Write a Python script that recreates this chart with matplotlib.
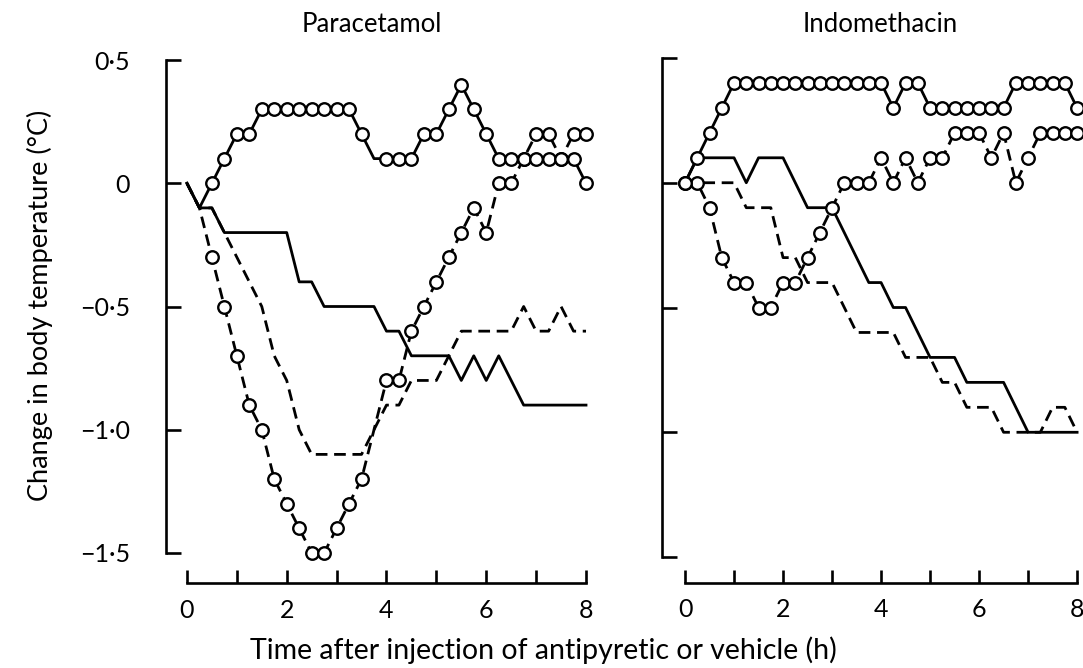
import matplotlib
matplotlib.use("Agg")
import matplotlib.pyplot as plt

plt.rcParams['font.family'] = ['Lato', 'DejaVu Sans']

# ---- data -------------------------------------------------------------
hours = [i * 0.25 for i in range(33)]

# Paracetamol
para_circ_solid = [0, -0.1, 0, 0.1, 0.2, 0.2, 0.3, 0.3, 0.3, 0.3, 0.3, 0.3, 0.3, 0.3,
                   0.2, 0.1, 0.1, 0.1, 0.1, 0.2, 0.2, 0.3, 0.4, 0.3, 0.2, 0.1, 0.1,
                   0.1, 0.1, 0.1, 0.1, 0.1, 0.0]
para_circ_dash = [0, -0.1, -0.3, -0.5, -0.7, -0.9, -1.0, -1.2, -1.3, -1.4, -1.5, -1.5,
                  -1.4, -1.3, -1.2, -1.0, -0.8, -0.8, -0.6, -0.5, -0.4, -0.3, -0.2,
                  -0.1, -0.2, 0.0, 0.0, 0.1, 0.2, 0.2, 0.1, 0.2, 0.2]
para_solid = [0, -0.1, -0.1, -0.2, -0.2, -0.2, -0.2, -0.2, -0.2, -0.4, -0.4, -0.5,
              -0.5, -0.5, -0.5, -0.5, -0.6, -0.6, -0.7, -0.7, -0.7, -0.7, -0.8, -0.7,
              -0.8, -0.7, -0.8, -0.9, -0.9, -0.9, -0.9, -0.9, -0.9]
para_dash = [0, -0.1, -0.1, -0.2, -0.3, -0.4, -0.5, -0.7, -0.8, -1.0, -1.1, -1.1, -1.1,
             -1.1, -1.1, -1.0, -0.9, -0.9, -0.8, -0.8, -0.8, -0.7, -0.6, -0.6, -0.6,
             -0.6, -0.6, -0.5, -0.6, -0.6, -0.5, -0.6, -0.6]

# Indomethacin
indo_circ_solid = [0, 0.1, 0.2, 0.3, 0.4, 0.4, 0.4, 0.4, 0.4, 0.4, 0.4, 0.4, 0.4, 0.4,
                   0.4, 0.4, 0.4, 0.3, 0.4, 0.4, 0.3, 0.3, 0.3, 0.3, 0.3, 0.3, 0.3,
                   0.4, 0.4, 0.4, 0.4, 0.4, 0.3]
indo_circ_dash = [0, 0.0, -0.1, -0.3, -0.4, -0.4, -0.5, -0.5, -0.4, -0.4, -0.3, -0.2,
                  -0.1, 0.0, 0.0, 0.0, 0.1, 0.0, 0.1, 0.0, 0.1, 0.1, 0.2, 0.2, 0.2,
                  0.1, 0.2, 0.0, 0.1, 0.2, 0.2, 0.2, 0.2]
indo_solid = [0, 0.1, 0.1, 0.1, 0.1, 0.0, 0.1, 0.1, 0.1, 0.0, -0.1, -0.1, -0.1, -0.2,
              -0.3, -0.4, -0.4, -0.5, -0.5, -0.6, -0.7, -0.7, -0.7, -0.8, -0.8, -0.8,
              -0.8, -0.9, -1.0, -1.0, -1.0, -1.0, -1.0]
indo_dash = [0, 0.0, 0.0, 0.0, 0.0, -0.1, -0.1, -0.1, -0.3, -0.3, -0.4, -0.4, -0.4,
             -0.5, -0.6, -0.6, -0.6, -0.6, -0.7, -0.7, -0.7, -0.8, -0.8, -0.9, -0.9,
             -0.9, -1.0, -1.0, -1.0, -1.0, -0.9, -0.9, -1.0]

titles = ["Paracetamol", "Indomethacin"]
ytick_vals = [0.5, 0, -0.5, -1.0, -1.5]
ytick_labels = ["0\u00b75", "0", "\u22120\u00b75", "\u22121\u00b70", "\u22121\u00b75"]
xtick_vals = list(range(9))
xtick_labels = ["0", "", "2", "", "4", "", "6", "", "8"]

# ---- figure -----------------------------------------------------------
W, H = 1083, 668
fig = plt.figure(figsize=(W / 100, H / 100), dpi=100)

LW = 2.0
DASH = (0, (4.2, 2.4))
MS = 9.0


def make_axes(left_px, right_px, top_px, bottom_px, xlim, ylim, ypad):
    ax = fig.add_axes([left_px / W, 1 - bottom_px / H,
                       (right_px - left_px) / W, (bottom_px - top_px) / H])
    ax.set_xlim(*xlim)
    ax.set_ylim(*ylim)
    for s in ("top", "right"):
        ax.spines[s].set_visible(False)
    ax.spines["left"].set_bounds(-1.5, 0.5)
    ax.spines["bottom"].set_bounds(0, 8)
    for s in ("left", "bottom"):
        ax.spines[s].set_linewidth(1.9)
    ax.set_xticks(xtick_vals)
    ax.set_xticklabels(xtick_labels)
    ax.set_yticks(ytick_vals)
    ax.tick_params(axis="x", direction="in", length=9.5, width=1.9, pad=11,
                   labelsize=18)
    ax.tick_params(axis="y", direction="in", length=11, width=1.9, pad=ypad,
                   labelsize=18)
    ax.patch.set_visible(False)
    return ax


axL = make_axes(166, 591, 47.7, 583.3, (-0.42, 8.1), (-1.623, 0.55), 26)
axR = make_axes(662, 1082, 45.5, 583.0, (-0.47, 8.1), (-1.604, 0.55), 26)
axL.set_yticklabels(ytick_labels)
axR.set_yticklabels([""] * len(ytick_vals))


def circ_line(ax, x, y, ls, mark_idx):
    ax.plot(x, y, color="black", lw=LW, ls=ls, marker="o", ms=MS,
            mfc="white", mec="black", mew=1.7, markevery=mark_idx,
            clip_on=False, zorder=3, dash_capstyle="butt")


def plain_line(ax, x, y, ls):
    ax.plot(x, y, color="black", lw=LW, ls=ls, clip_on=False, zorder=2,
            dash_capstyle="butt")


n = len(hours)
left_marks = [i for i in range(2, n) if i != 15]
right_marks = list(range(n))

plain_line(axL, hours, para_solid, "-")
plain_line(axL, hours, para_dash, DASH)
circ_line(axL, hours, para_circ_dash, DASH, left_marks)
circ_line(axL, hours, para_circ_solid, "-", left_marks)

plain_line(axR, hours, indo_solid, "-")
plain_line(axR, hours, indo_dash, DASH)
circ_line(axR, hours, indo_circ_dash, DASH, right_marks)
circ_line(axR, hours, indo_circ_solid, "-", right_marks)

fig.text(372 / W, 1 - 25 / H, titles[0], ha="center", va="center", fontsize=18.5)
fig.text(880 / W, 1 - 25 / H, titles[1], ha="center", va="center", fontsize=18.5)
fig.text(40 / W, 1 - 305 / H, "Change in body temperature (\u00b0C)", rotation=90,
         ha="center", va="center", fontsize=19.5)
fig.text(543 / W, 1 - 650 / H, "Time after injection of antipyretic or vehicle (h)",
         ha="center", va="center", fontsize=20.5)

fig.savefig("out.png", dpi=100)
